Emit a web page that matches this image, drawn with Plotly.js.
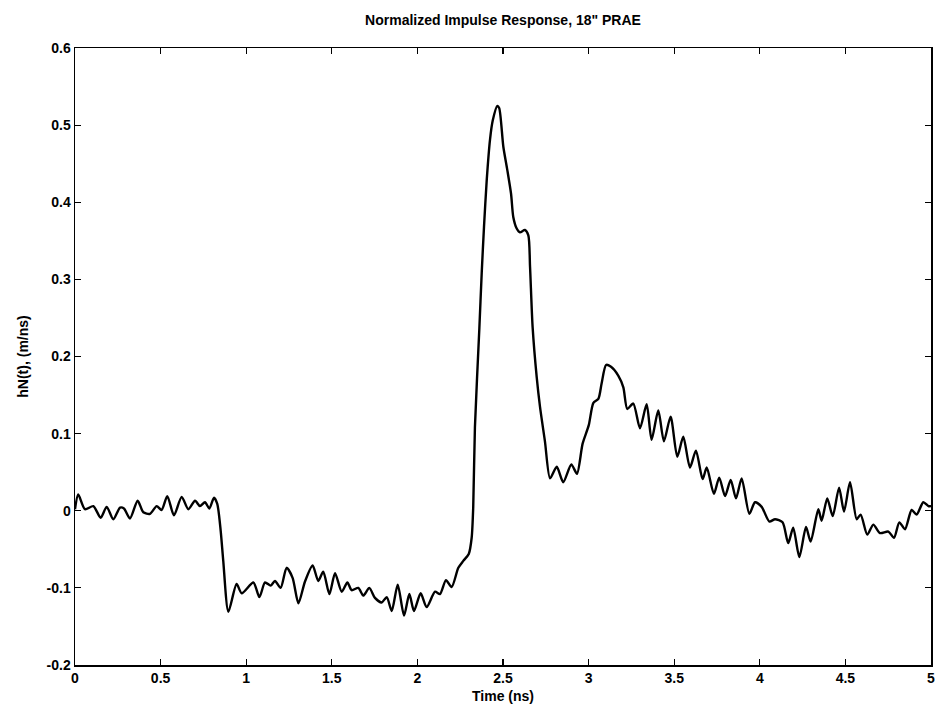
<!DOCTYPE html>
<html>
<head>
<meta charset="utf-8">
<script src="https://cdn.plot.ly/plotly-3.0.1.min.js"></script>
<style>html,body{margin:0;padding:0;background:#fff;}#chart{width:937px;height:717px;}</style>
</head>
<body>
<div id="chart"></div>
<script>
const timeNs = [0.000,0.019,0.058,0.107,0.150,0.185,0.224,0.263,0.286,0.321,0.366,0.399,0.438,0.477,0.506,0.539,0.578,0.623,0.662,0.701,0.730,0.759,0.785,0.812,0.831,0.851,0.866,0.896,0.944,0.974,1.042,1.077,1.110,1.143,1.168,1.201,1.236,1.271,1.305,1.343,1.388,1.421,1.450,1.486,1.519,1.558,1.591,1.616,1.655,1.684,1.719,1.752,1.791,1.821,1.850,1.885,1.922,1.953,1.980,2.019,2.054,2.103,2.132,2.167,2.200,2.239,2.268,2.300,2.317,2.326,2.336,2.362,2.376,2.389,2.405,2.424,2.440,2.467,2.478,2.502,2.525,2.547,2.560,2.580,2.599,2.628,2.648,2.658,2.673,2.697,2.716,2.745,2.775,2.814,2.852,2.899,2.932,2.965,3.001,3.028,3.057,3.076,3.102,3.129,3.174,3.203,3.226,3.261,3.300,3.339,3.368,3.407,3.440,3.479,3.518,3.553,3.592,3.627,3.666,3.690,3.732,3.763,3.797,3.830,3.861,3.894,3.939,3.972,4.011,4.056,4.089,4.133,4.166,4.195,4.231,4.270,4.297,4.342,4.361,4.394,4.426,4.463,4.492,4.527,4.566,4.589,4.628,4.663,4.702,4.751,4.784,4.815,4.848,4.887,4.916,4.955,4.985,5.000];
const hN = [0.002,0.021,0.002,0.006,-0.009,0.005,-0.011,0.004,0.003,-0.010,0.013,-0.002,-0.004,0.006,0.001,0.019,-0.006,0.018,0.002,0.013,0.006,0.011,0.003,0.017,0.009,-0.026,-0.065,-0.131,-0.095,-0.107,-0.093,-0.112,-0.093,-0.097,-0.091,-0.100,-0.074,-0.087,-0.120,-0.092,-0.071,-0.091,-0.079,-0.108,-0.081,-0.105,-0.093,-0.103,-0.100,-0.110,-0.100,-0.113,-0.119,-0.112,-0.130,-0.096,-0.136,-0.108,-0.130,-0.107,-0.125,-0.105,-0.108,-0.090,-0.099,-0.074,-0.065,-0.056,-0.035,0.004,0.108,0.237,0.310,0.368,0.429,0.481,0.506,0.525,0.522,0.472,0.442,0.411,0.381,0.366,0.361,0.364,0.357,0.316,0.238,0.173,0.135,0.090,0.042,0.057,0.037,0.060,0.048,0.087,0.111,0.140,0.145,0.165,0.189,0.187,0.175,0.160,0.132,0.139,0.107,0.138,0.092,0.130,0.090,0.122,0.070,0.096,0.056,0.078,0.041,0.056,0.022,0.043,0.019,0.040,0.016,0.042,-0.004,0.011,0.005,-0.014,-0.011,-0.015,-0.042,-0.022,-0.060,-0.021,-0.040,0.002,-0.013,0.016,-0.007,0.030,-0.001,0.037,-0.011,-0.005,-0.031,-0.018,-0.029,-0.027,-0.035,-0.015,-0.024,0.001,-0.005,0.011,0.006,0.006];
const xTickVals = [0,0.5,1,1.5,2,2.5,3,3.5,4,4.5,5];
const xTickText = ["0","0.5","1","1.5","2","2.5","3","3.5","4","4.5","5"];
const yTickVals = [-0.2,-0.1,0,0.1,0.2,0.3,0.4,0.5,0.6];
const yTickText = ["-0.2","-0.1","0","0.1","0.2","0.3","0.4","0.5","0.6"];

const fontFam = "Liberation Sans, Arial, Helvetica, sans-serif";
const txtFont = {family: fontFam, size: 14, color: "#000", weight: "bold"};
const trace = {
  x: timeNs, y: hN, type: "scatter", mode: "lines",
  line: {color: "#000", width: 2.4, shape: "spline", smoothing: 0.7},
  hoverinfo: "none"
};
const axisCommon = {
  showgrid: false, zeroline: false, showline: true, linecolor: "#000", linewidth: 1.5,
  mirror: "allticks", ticks: "inside", ticklen: 6, tickcolor: "#000", tickwidth: 1.2,
  tickfont: txtFont, tickmode: "array"
};
const layout = {
  width: 937, height: 717,
  margin: {l: 75, r: 6, t: 48, b: 52},
  paper_bgcolor: "#fff", plot_bgcolor: "#fff",
  showlegend: false,
  title: {text: "Normalized Impulse Response, 18\" PRAE", font: txtFont,
          x: 0.5, xref: "paper", y: 1 - 20/717, yref: "container", yanchor: "middle"},
  xaxis: Object.assign({}, axisCommon, {range: [0, 5], tickvals: xTickVals, ticktext: xTickText,
          title: {text: "Time (ns)", font: txtFont, standoff: 6}}),
  yaxis: Object.assign({}, axisCommon, {range: [-0.2, 0.6], tickvals: yTickVals, ticktext: yTickText,
          title: {text: "hN(t), (m/ns)", font: txtFont, standoff: 14}})
};
Plotly.newPlot("chart", [trace], layout, {staticPlot: true, displayModeBar: false});
</script>
</body>
</html>
